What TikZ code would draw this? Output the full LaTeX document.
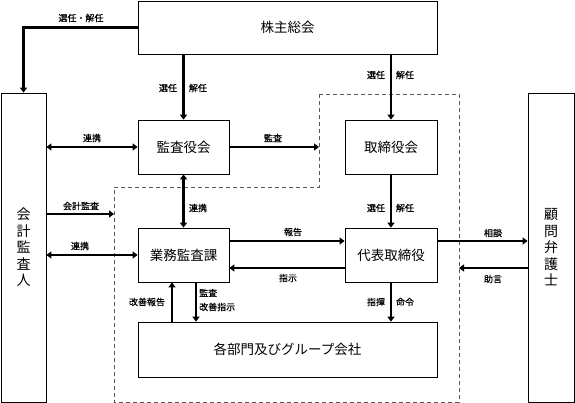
\documentclass[tikz,border=0pt]{standalone}
\usepackage{fontspec}
\setmainfont{Noto Sans CJK JP}
\newfontfamily\lblfont[FakeBold=0.6]{Noto Sans CJK JP}
\usetikzlibrary{arrows.meta}
\begin{document}
\begin{tikzpicture}[x=1pt,y=-1pt,
  box/.style={draw=black,line width=0.8pt,inner sep=0pt,fill=white,font=\fontsize{13.5}{16}\selectfont},
  vbox/.style={box,align=center,font=\fontsize{14}{16.5}\selectfont},
  lbl/.style={font=\lblfont\fontsize{9}{11}\selectfont,inner sep=0pt},
  arr/.style={line width=2.2pt,-{Triangle[length=5pt,width=7pt]}},
  darr/.style={line width=2.2pt,{Triangle[length=5pt,width=7pt]}-{Triangle[length=5pt,width=7pt]}},
  region/.style={draw=black!65,line width=0.8pt,dash pattern=on 4pt off 3pt}]
\useasboundingbox[fill=white] (0,0) rectangle (575,403);
% dashed region
\draw[region] (319,94) -- (459,94) -- (459,402) -- (114,402) -- (114,187) -- (319,187) -- cycle;
\coordinate (dl) at (114,214);
\coordinate (dt) at (319,147);
\coordinate (dr1) at (459,241);
\coordinate (dr2) at (459,268);
% boxes
\node[box,minimum width=299pt,minimum height=53pt] (kabu) at (287.5,27.5) {株主総会};
\node[vbox,minimum width=45pt,minimum height=309pt] (kaikei) at (23.5,247.5) {会\\計\\監\\査\\人};
\node[box,minimum width=91pt,minimum height=54pt] (kansa) at (183.5,147) {監査役会};
\node[box,minimum width=92pt,minimum height=54pt] (tori) at (391,147) {取締役会};
\node[box,minimum width=91pt,minimum height=54pt] (gyomu) at (183.5,255) {業務監査課};
\node[box,minimum width=92pt,minimum height=54pt] (daihyo) at (391,255) {代表取締役};
\node[box,minimum width=299pt,minimum height=55pt] (kakubu) at (287.5,349.5) {各部門及びグループ会社};
\node[vbox,minimum width=46pt,minimum height=309pt] (komon) at (551,247.5) {顧\\問\\弁\\護\\士};
% connectors
\draw[arr] (kabu.west) -| (kaikei.north);
\node[lbl] (l1) at (81,18) {選任・解任};
\draw[arr] (kabu.south -| kansa) -- (kansa.north);
\node[lbl] (l2a) at (168,88) {選任};
\node[lbl] (l2b) at (198,88) {解任};
\draw[arr] (kabu.south -| tori) -- (tori.north);
\node[lbl] (l3a) at (376,75) {選任};
\node[lbl] (l3b) at (405,75) {解任};
\draw[darr] (kaikei.east |- kansa) -- (kansa.west);
\node[lbl] (l4) at (92,138) {連携};
\draw[arr] (kansa.east) -- (dt);
\node[lbl] (l5) at (273,138) {監査};
\draw[darr] (kansa.south) -- (gyomu.north);
\node[lbl] (l6) at (198,208) {連携};
\draw[arr] (kaikei.east |- dl) -- (dl);
\node[lbl] (l7) at (81,206) {会計監査};
\draw[darr] (kaikei.east |- gyomu) -- (gyomu.west);
\node[lbl] (l8) at (80,246) {連携};
\draw[arr] (gyomu.east |- dr1) -- (daihyo.west |- dr1);
\node[lbl] (l9) at (293,232) {報告};
\draw[arr] (daihyo.west |- dr2) -- (gyomu.east |- dr2);
\node[lbl] (l10) at (288,278) {指示};
\draw[arr] (tori.south) -- (daihyo.north);
\node[lbl] (l11a) at (376,208) {選任};
\node[lbl] (l11b) at (405,208) {解任};
\draw[arr] (daihyo.east |- dr1) -- (komon.west |- dr1);
\node[lbl] (l12) at (493,233) {相談};
\draw[arr] (komon.west |- dr2) -- (dr2);
\node[lbl] (l13) at (493,279) {助言};
\draw[arr] (kakubu.north -| 172,0) -- (gyomu.south -| 172,0);
\node[lbl] (l14) at (147,302) {改善報告};
\draw[arr] (gyomu.south -| 196,0) -- (kakubu.north -| 196,0);
\node[lbl,anchor=west,align=left,font=\lblfont\fontsize{9}{14}\selectfont] (l15) at (199,300) {監査\\改善指示};
\draw[arr] (daihyo.south) -- (kakubu.north -| daihyo);
\node[lbl] (l16a) at (376,302) {指揮};
\node[lbl] (l16b) at (405,302) {命令};
\end{tikzpicture}
\end{document}
